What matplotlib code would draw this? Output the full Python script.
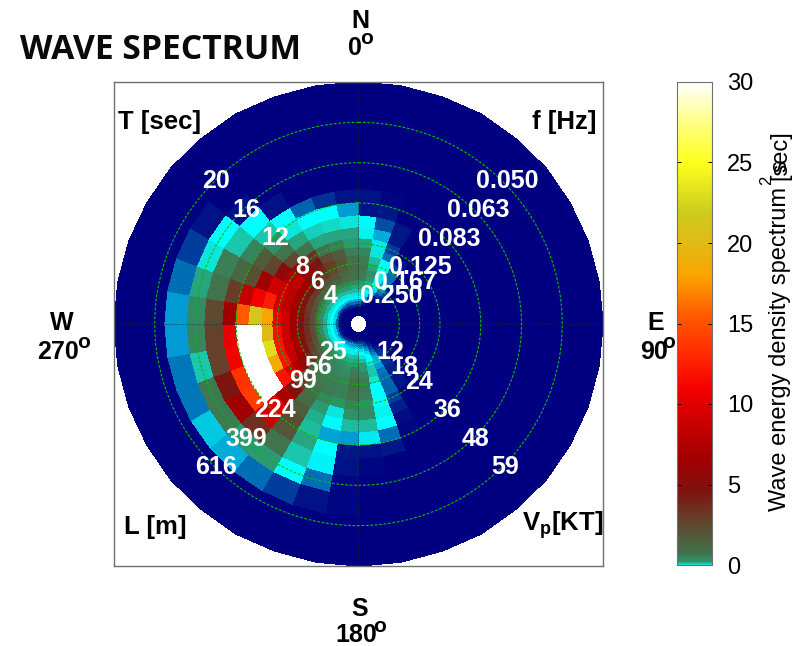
import numpy as np
import matplotlib
matplotlib.use("Agg")
import matplotlib.pyplot as plt
from matplotlib.colors import LinearSegmentedColormap

plt.rcParams['font.family'] = ['Liberation Sans', 'DejaVu Sans']
plt.rcParams['mathtext.fontset'] = 'custom'
plt.rcParams['mathtext.rm'] = 'Liberation Sans'
plt.rcParams['mathtext.bf'] = 'Liberation Sans:bold'

# period bin edges [sec], outermost ring first
period_edges = [24.0, 21.4, 19.0, 16.8, 15.1, 13.3, 12.0, 10.7, 9.5, 8.43, 7.53, 6.73, 6.0, 5.36, 4.78,
                4.27, 3.81, 3.41, 3.04, 2.72, 2.42, 2.17, 1.93, 1.73, 1.54, 1.37, 1.23, 1.1, 0.98, 0.88]
bearing_edges = list(range(0, 370, 10))

# energy per direction bin, one value per ring from the outside in (below 0 = the blue end of the colour scale)
dir_0 = [-3, -3, -3, -3, -3, -2.7, -2.7, -0.05, 0.05, 0.5, 0.9, 1.1, 1.2, 1.1, 1, 0.6, 0.5, 0.3, 0.1, 0, -1, -1.5, -2, -2.6, -3, -3, -3, -3, -3]
dir_10 = [-3, -3, -3, -3, -3, -2.9, -2.6, -1.8, -0.8, -0.2, 0.1, 0.3, 0.5, 0.7, 0.6, 0.4, 0.2, 0, -0.3, -1, -1.7, -2.4, -2.8, -3, -3, -3, -3, -3, -3]
dir_20 = [-3, -3, -3, -3, -3, -3, -3, -2.6, -2.6, -2, -1.5, 0, 0, -0.1, 0.05, 0, -0.3, -1, -1.5, -2, -2.6, -3, -3, -3, -3, -3, -3, -3, -3]
dir_30 = [-3, -3, -3, -3, -3, -3, -3, -3, -3, -3, -2.6, -2, -1.5, -1.5, -1, -1, -1.5, -2, -2.6, -3, -3, -3, -3, -3, -3, -3, -3, -3, -3]
dir_40 = [-3, -3, -3, -3, -3, -3, -3, -3, -3, -3, -3, -3, -3, -2.6, -2.6, -2, -2, -2.6, -2.6, -3, -3, -3, -3, -3, -3, -3, -3, -3, -3]
dir_140 = [-3, -3, -3, -3, -3, -3, -3, -3, -3, -3, -2.7, -2.6, -2.5, -2.4, -2.2, -2, -2, -2.2, -2.6, -2.9, -3, -3, -3, -3, -3, -3, -3, -3, -3]
dir_150 = [-3, -3, -3, -3, -3, -3, -2.9, -2.8, -2.5, -2, -1.6, -1.6, -1.5, -1.4, -1, -0.6, -0.8, -1.2, -1.6, -2, -2.4, -2.7, -2.9, -3, -3, -3, -3, -3, -3]
dir_160 = [-3, -3, -3, -3, -3, -2.6, -1.5, 0, 0.05, 0, 0, 0, 0.1, 0.25, 0.25, 0.1, 0, 0, -0.4, -1, -1.5, -2, -2.6, -2.9, -3, -3, -3, -3, -3]
dir_170 = [-3, -3, -3, -3, -2.9, -2.7, -0.2, 0.3, 0.8, 0.7, 1, 1.1, 1.1, 0.9, 0.6, 0.6, 0.3, 0.1, 0, -0.3, -1, -1.5, -2, -2.6, -3, -3, -3, -3, -3]
dir_180 = [-3, -3, -2.9, -2.9, -2.7, -2.6, -1, 0.3, 0.7, 1, 1.2, 1.3, 1.3, 1.1, 1, 0.6, 0.5, 0.3, 0.1, -0.05, -0.5, -1.3, -2, -2.7, -3, -3, -3, -3, -3]
dir_190 = [-3, -3, -2.7, -1.5, -0.1, 0, -0.9, -0.02, 0.1, 0.7, 1, 1, 0.9, 0.8, 0.7, 0.6, 0.4, 0.25, 0.05, -0.2, -0.7, -1.1, -2, -2.7, -3, -3, -3, -3, -3]
dir_200 = [-3, -3, -2, 0, 0.25, 0.5, 0.3, 0.4, 0.6, 0.9, 1.1, 1.1, 1, 0.9, 0.8, 0.7, 0.5, 0.3, 0.1, -0.1, -0.5, -1, -2, -2.7, -3, -3, -3, -3, -3]
dir_210 = [-3, -3, -1.5, 0.6, 1.2, 2, 2.2, 1.8, 1.4, 1.3, 1.2, 1.1, 1, 1, 0.9, 0.8, 0.6, 0.35, 0.1, 0, -0.4, -1, -2.1, -2.7, -3, -3, -3, -3, -3]
dir_220 = [-3, -3, -0.8, 0.6, 3.5, 9, 10, 7, 4.8, 3, 2, 1.6, 1.4, 1.3, 1.2, 1, 0.7, 0.4, 0.1, 0, -0.4, -1.1, -2.2, -2.8, -3, -3, -3, -3, -3]
dir_230 = [-3, -3, -0.5, 1.1, 6.5, 14, 30, 30, 12, 9.5, 7, 5, 3.5, 2.4, 1.6, 1.2, 0.7, 0.4, 0.1, 0, -0.4, -1.2, -2.3, -2.8, -3, -3, -3, -3, -3]
dir_240 = [-3, -3, -1.4, 1.1, 4.5, 13.5, 30, 30, 18.5, 12, 8.5, 6.5, 4.5, 3, 2, 1.3, 0.8, 0.4, 0.1, 0, -0.4, -1.3, -2.4, -2.8, -3, -3, -3, -3, -3]
dir_250 = [-3, -3, -1.4, 0.25, 2.8, 11, 30, 30, 23, 12, 9, 7, 5, 3.5, 2.2, 1.4, 0.8, 0.4, 0.1, 0, -0.4, -1.4, -2.5, -2.9, -3, -3, -3, -3, -3]
dir_260 = [-3, -3, -1, 0.9, 2.8, 10.5, 30, 30, 20, 11.5, 9, 6.5, 5, 3.5, 2.2, 1.4, 0.8, 0.4, 0.1, 0, -0.4, -1.5, -2.6, -2.9, -3, -3, -3, -3, -3]
dir_270 = [-3, -3, -1, 0.8, 2.5, 6.5, 15.5, 21.5, 18, 10.5, 9, 6.5, 5, 3.5, 2.2, 1.4, 0.8, 0.4, 0.1, 0, -0.4, -1.5, -2.6, -2.9, -3, -3, -3, -3, -3]
dir_280 = [-3, -3, -1.5, 0.5, 1.2, 3, 8.5, 11, 12.5, 9, 8, 6.5, 4.5, 3.2, 2.1, 1.3, 0.7, 0.35, 0.1, 0, -0.4, -1.6, -2.6, -2.9, -3, -3, -3, -3, -3]
dir_290 = [-3, -3, -2, 0.1, 1, 1.5, 2.2, 6.5, 9, 9, 8, 6.5, 4.5, 3, 2, 1.2, 0.7, 0.35, 0.1, 0, -0.5, -1.7, -2.6, -2.9, -3, -3, -3, -3, -3]
dir_300 = [-3, -3, -2.7, 0, 0.25, 0.9, 1.8, 2.6, 5.5, 7.5, 8.5, 6.5, 4.5, 3, 1.8, 1.1, 0.6, 0.3, 0.1, 0, -0.5, -1.7, -2.5, -2.9, -3, -3, -3, -3, -3]
dir_310 = [-3, -3, -3, -2.7, 0, 0.25, 0.7, 1.2, 2.5, 5, 6.5, 5, 4, 2.6, 1.7, 1, 0.6, 0.3, 0.1, 0, -0.6, -1.7, -2.5, -2.9, -3, -3, -3, -3, -3]
dir_320 = [-3, -3, -3, -3, -2.7, 0, 0.1, 0.5, 1.2, 3.5, 4.5, 4, 3.2, 2.2, 1.6, 1, 0.6, 0.3, 0.1, 0, -0.6, -1.6, -2.5, -2.9, -3, -3, -3, -3, -3]
dir_330 = [-3, -3, -3, -3, -3, -1.6, 0, 0.2, 0.5, 1.2, 2.5, 3, 2.5, 2, 1.5, 1, 0.6, 0.3, 0.1, -0.1, -0.8, -1.6, -2.4, -2.8, -3, -3, -3, -3, -3]
dir_340 = [-3, -3, -3, -3, -3, -2.2, 0, 0.15, 0.5, 1, 1.8, 2, 1.8, 1.5, 1.3, 0.9, 0.6, 0.3, 0.1, -0.1, -0.8, -1.5, -2.3, -2.8, -3, -3, -3, -3, -3]
dir_350 = [-3, -3, -3, -3, -3, -2.7, -1, 0.1, 0.5, 0.6, 1, 1.3, 1.4, 1.3, 1.2, 0.8, 0.5, 0.3, 0.1, -0.1, -0.8, -1.5, -2.2, -2.7, -3, -3, -3, -3, -3]
calm = [-3] * 29

energy = np.array([dir_0, dir_10, dir_20, dir_30, dir_40] + [calm] * 9 +
                  [dir_140, dir_150, dir_160, dir_170, dir_180, dir_190, dir_200, dir_210, dir_220, dir_230,
                   dir_240, dir_250, dir_260, dir_270, dir_280, dir_290, dir_300, dir_310, dir_320, dir_330,
                   dir_340, dir_350])
# the low end was read too high against the colorbar, pull it down
energy = np.interp(energy, [-3, 0, 0.15, 0.3, 0.6, 1.2, 2, 30], [-3, 0, 0.05, 0.1, 0.2, 0.7, 2, 30])

period_rings = [4, 6, 8, 12, 16, 20]
period_labels = ['4', '6', '8', '12', '16', '20']
freq_labels = ['0.250', '0.167', '0.125', '0.083', '0.063', '0.050']
speed_labels = ['12', '18', '24', '36', '48', '59']
length_labels = ['25', '56', '99', '224', '399', '616']
cbar_ticks = [0, 5, 10, 15, 20, 25, 30]

# colour scale, value -> colour
scale_values = [-3, -2.6, -2, -1.5, -1, -0.5, 0, 0.05, 0.1, 0.2, 0.7, 2, 3, 4.5, 6.5, 9, 11, 13, 15.5, 18, 20, 22, 25, 27, 30]
scale_colors = [(0, 0, 128), (0, 25, 135), (0, 60, 155), (0, 110, 180), (0, 155, 210), (0, 200, 225), (0, 255, 255),
                (20, 215, 195), (30, 185, 155), (45, 150, 110), (65, 115, 75), (85, 85, 55), (105, 60, 40),
                (125, 20, 15), (160, 0, 0), (205, 0, 0), (245, 0, 0), (255, 40, 0), (255, 90, 0), (250, 165, 0),
                (225, 185, 20), (205, 205, 30), (255, 255, 30), (255, 255, 110), (255, 255, 255)]
vmin, vmax = scale_values[0], scale_values[-1]
wave_cmap = LinearSegmentedColormap.from_list(
    'wave', [((v - vmin) / (vmax - vmin), tuple(c / 255 for c in rgb)) for v, rgb in zip(scale_values, scale_colors)], N=2048)

W, H = 800, 646
fig = plt.figure(figsize=(8, 6.46), dpi=100)


def put(px, py, s, **kw):
    kw.setdefault('ha', 'center')
    kw.setdefault('va', 'center')
    fig.text(px / W, 1 - py / H, s, **kw)


ax = fig.add_axes([114 / W, 1 - 566 / H, 489 / W, 484 / H])
bearing_grid, period_grid = np.meshgrid(np.radians(bearing_edges), period_edges, indexing='ij')
x = period_grid * np.sin(bearing_grid)
y = period_grid * np.cos(bearing_grid)
mesh = ax.pcolormesh(x, y, energy, cmap=wave_cmap, vmin=vmin, vmax=vmax, shading='flat',
                     edgecolors='face', linewidth=0.25)
ax.set_xlim(-24, 24)
ax.set_ylim(-24, 24)
ax.set_xticks([])
ax.set_yticks([])
for s in ax.spines.values():
    s.set_color('#707070')
    s.set_linewidth(1)

ax.plot([-24, -0.88], [0, 0], ':', color='#103030', lw=0.6)
ax.plot([0.88, 24], [0, 0], ':', color='#103030', lw=0.6)
ax.plot([0, 0], [-24, -0.88], ':', color='#103030', lw=0.6)
ax.plot([0, 0], [0.88, 24], ':', color='#103030', lw=0.6)
theta = np.linspace(0, 2 * np.pi, 361)
for t in period_rings:
    ax.plot(t * np.sin(theta), t * np.cos(theta), '--', color='#00c000', lw=0.8, dashes=(2.5, 1.5))

# white ring labels on the four diagonals
label_kw = dict(color='white', fontweight='bold', fontsize=18)
for px, py, s in zip([331, 317, 302, 275, 246, 216], [296, 282, 267, 238, 210, 181], period_labels):
    put(px, py, s, **label_kw)
for px, py, s in zip([391, 405, 420, 449, 478, 507], [296, 282, 267, 239, 210, 181], freq_labels):
    put(px, py, s, **label_kw)
for px, py, s in zip([390, 404, 419, 447, 476, 505], [352, 367, 382, 410, 439, 467], speed_labels):
    put(px, py, s, **label_kw)
for px, py, s in zip([333, 318, 303, 275, 246, 216], [352, 367, 381, 410, 439, 467], length_labels):
    put(px, py, s, **label_kw)

corner_kw = dict(color='black', fontweight='bold', fontsize=18.5)
put(160, 122, 'T [sec]', **corner_kw)
put(564, 122, 'f [Hz]', **corner_kw)
put(155, 527, 'L [m]', **corner_kw)
put(563, 525, r'V$_{\mathbf{p}}$[KT]', **corner_kw)

put(160, 50, 'WAVE SPECTRUM', color='#0a0a0a', fontweight='bold', fontsize=24.2, family=['Open Sans', 'DejaVu Sans'])

compass_kw = dict(color='black', fontweight='bold', fontsize=18)
degree_kw = dict(color='black', fontweight='bold', fontsize=15)
put(360, 21, 'N', **compass_kw)
put(355, 48, '0', **compass_kw)
put(367, 38, 'o', **degree_kw)
put(62, 323, 'W', **compass_kw)
put(58, 352, '270', **compass_kw)
put(84, 342, 'o', **degree_kw)
put(656, 323, 'E', **compass_kw)
put(654, 352, '90', **compass_kw)
put(669, 343, 'o', **degree_kw)
put(360, 609, 'S', **compass_kw)
put(356, 635, '180', **compass_kw)
put(380, 627, 'o', **degree_kw)

cax = fig.add_axes([677 / W, 1 - 565 / H, 35 / W, 483 / H])
cbar = fig.colorbar(mesh, cax=cax)
cax.set_ylim(0, 30)
cbar.set_ticks(cbar_ticks)
cax.tick_params(direction='in', length=3, left=True, right=True, labelsize=17, pad=11, width=0.7)
cbar.outline.set_edgecolor('#707070')

put(780, 349, 'Wave energy density spectrum', rotation=90, fontsize=17, color='black')
put(767, 180, '2', rotation=90, fontsize=12, color='black')
put(780, 155, '[sec]', rotation=90, fontsize=17, color='black')
put(780, 166, 's', rotation=90, fontsize=17, color='black')

fig.savefig('out.png', dpi=100, facecolor='white')
